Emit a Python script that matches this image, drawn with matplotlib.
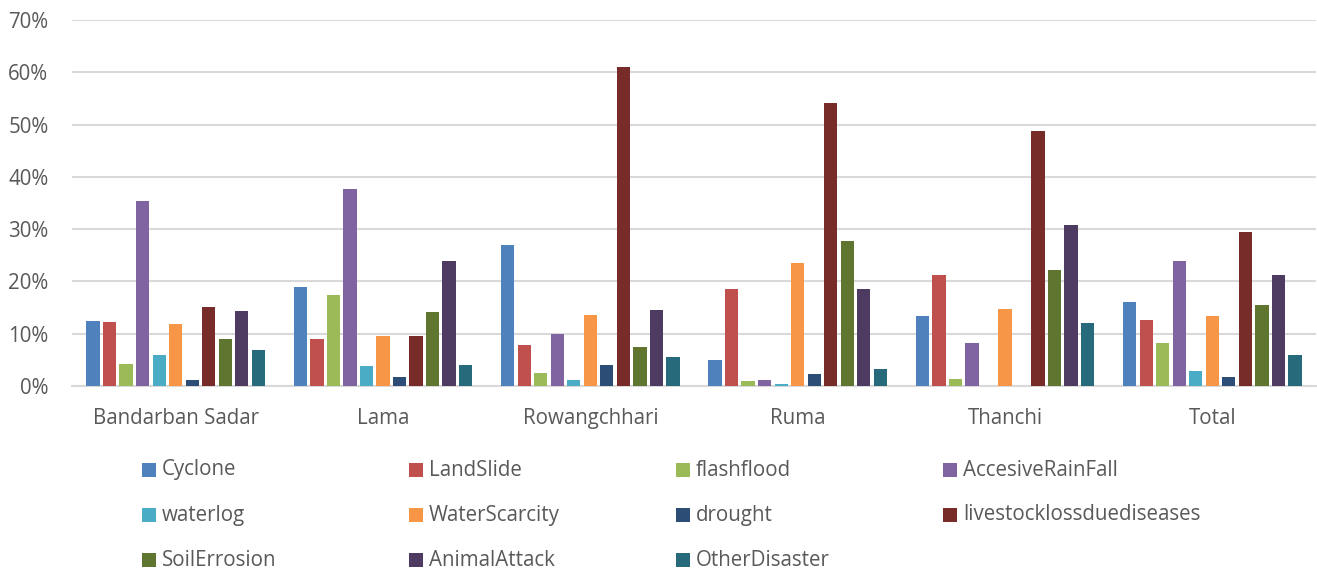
import matplotlib
matplotlib.use("Agg")
import matplotlib.pyplot as plt
from matplotlib.patches import Rectangle
from matplotlib.ticker import PercentFormatter
import numpy as np

plt.rcParams["font.family"] = ["Open Sans", "DejaVu Sans"]

upazilas = ["Bandarban Sadar", "Lama", "Rowangchhari", "Ruma", "Thanchi", "Total"]
hazards = ["Cyclone", "LandSlide", "flashflood", "AccesiveRainFall", "waterlog",
           "WaterScarcity", "drought", "livestocklossduediseases", "SoilErrosion",
           "AnimalAttack", "OtherDisaster"]

# percent of respondents per hazard, one list per upazila
bandarban_sadar = [12.5, 12.2, 4.3, 35.3, 6.0, 11.8, 1.2, 15.1, 9.0, 14.3, 6.8]
lama = [19.0, 9.0, 17.5, 37.7, 3.8, 9.6, 1.7, 9.5, 14.2, 24.0, 4.1]
rowangchhari = [27.0, 7.9, 2.5, 10.0, 1.1, 13.6, 4.0, 61.0, 7.4, 14.6, 5.6]
ruma = [4.9, 18.5, 1.0, 1.2, 0.4, 23.6, 2.3, 54.2, 27.7, 18.6, 3.2]
thanchi = [13.4, 21.2, 1.3, 8.2, 0.0, 14.8, 0.0, 48.8, 22.1, 30.7, 12.1]
total = [16.1, 12.7, 8.3, 24.0, 2.8, 13.3, 1.7, 29.5, 15.4, 21.3, 5.9]

colors = ["#4F81BD", "#C0504D", "#9BBB59", "#8064A2", "#4BACC6", "#F79646",
          "#2C4D75", "#772C2A", "#5F7530", "#4D3B62", "#276A7C"]

values = np.array([bandarban_sadar, lama, rowangchhari, ruma, thanchi, total])

W, H = 1317, 575
FS = 14.8
fig = plt.figure(figsize=(W / 100, H / 100), dpi=100)
ax = fig.add_axes([72 / W, 1 - 386 / H, (1316 - 72) / W, (386 - 20) / H])

x = np.arange(len(upazilas))
pitch = 0.0797
width = 0.064
for i, (name, col) in enumerate(zip(hazards, colors)):
    offs = (i - (len(hazards) - 1) / 2) * pitch
    ax.bar(x + offs, values[:, i], width=width, color=col, label=name, zorder=3)

ax.set_xlim(-0.5, len(upazilas) - 0.5)
ax.set_ylim(0, 70)
ax.set_yticks(np.arange(0, 71, 10))
ax.yaxis.set_major_formatter(PercentFormatter(decimals=0))
ax.set_xticks(x)
ax.set_xticklabels(upazilas)
ax.tick_params(axis="both", length=0, labelsize=FS, colors="#595959")
ax.tick_params(axis="x", pad=16)
ax.tick_params(axis="y", pad=17)
ax.grid(axis="y", color="#D9D9D9", linewidth=1.5, zorder=0)
for s in ["top", "right", "left"]:
    ax.spines[s].set_visible(False)
ax.spines["bottom"].set_color("#D9D9D9")
ax.spines["bottom"].set_linewidth(1.5)

# legend laid out row by row in a 4-column grid below the axes
col_x = [142, 409, 676, 943]
row_y = [470, 515, 560]
box = 14
for k, (name, col) in enumerate(zip(hazards, colors)):
    r, c = divmod(k, 4)
    px, py = col_x[c], row_y[r]
    fig.patches.append(Rectangle((px / W, 1 - (py + box / 2) / H), box / W, box / H,
                                 transform=fig.transFigure, facecolor=col, edgecolor="none"))
    fig.text((px + 20) / W, 1 - py / H, name, fontsize=FS, color="#595959",
             ha="left", va="center")

fig.savefig("out.png", dpi=100)
